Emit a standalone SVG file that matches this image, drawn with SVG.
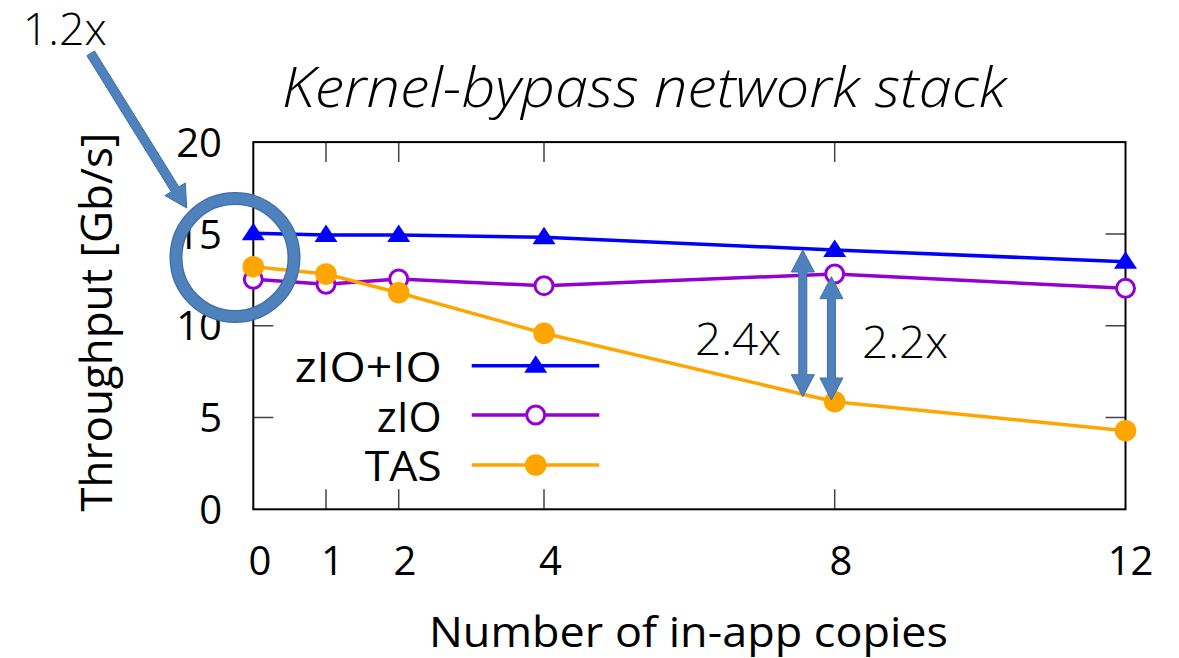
<svg xmlns="http://www.w3.org/2000/svg" width="1179" height="658" viewBox="0 0 1179 658">
  <style>
    text { font-family: "Open Sans", "DejaVu Sans", sans-serif; fill: #000; }
    .tick { stroke: #444; stroke-width: 1.5; fill: none; }
    .frame { stroke: #000; stroke-width: 2; fill: none; }
    .ylab { font-size: 40px; text-anchor: end; }
    .xlab { font-size: 40px; text-anchor: middle; }
    .leg { font-size: 42px; text-anchor: end; }
    .note { font-size: 44px; font-weight: 300; }
    .s-blue { stroke: #0000ff; stroke-width: 3.5; fill: none; stroke-linejoin: round; }
    .s-purple { stroke: #9400d3; stroke-width: 3.5; fill: none; stroke-linejoin: round; }
    .s-orange { stroke: #ffa500; stroke-width: 3.5; fill: none; stroke-linejoin: round; }
    .m-tri { fill: #0000ff; }
    .m-ring { fill: #fff; stroke: #9400d3; stroke-width: 3; }
    .m-dot { fill: #ffa500; }
    .callout { fill: #4f81bd; stroke: #3f6ea5; stroke-width: 1; }
  </style>
  <defs>
    <polygon id="tri" points="0,-10.5 -11.5,7 11.5,7"/>
  </defs>

  <rect width="1179" height="658" fill="#fff"/>

  <!-- title -->
  <text x="282" y="107" font-size="56" font-style="italic" font-weight="300" fill="#262626" textLength="724" lengthAdjust="spacingAndGlyphs">Kernel-bypass network stack</text>

  <!-- axes frame and ticks -->
  <g id="axes">
    <g class="tick">
      <path d="M253.3,417.5h20M253.3,325.7h20M253.3,233.9h20"/>
      <path d="M1125.5,417.5h-20M1125.5,325.7h-20M1125.5,233.9h-20"/>
      <path d="M326,509.3v-20M398.7,509.3v-20M544,509.3v-20M834.7,509.3v-20"/>
      <path d="M326,142.1v20M398.7,142.1v20M544,142.1v20M834.7,142.1v20"/>
    </g>
    <rect class="frame" x="253.3" y="142.1" width="872.2" height="367.2"/>
    <text class="ylab" x="222" y="157">20</text>
    <text class="ylab" x="222" y="248.5">15</text>
    <text class="ylab" x="222" y="340.2">10</text>
    <text class="ylab" x="222" y="432">5</text>
    <text class="ylab" x="222" y="524">0</text>
    <text class="xlab" x="260" y="575">0</text>
    <text class="xlab" x="332.5" y="575">1</text>
    <text class="xlab" x="405" y="575">2</text>
    <text class="xlab" x="550.5" y="575">4</text>
    <text class="xlab" x="841" y="575">8</text>
    <text class="xlab" x="1130.5" y="575">12</text>
    <text x="429" y="647" font-size="42" textLength="519" lengthAdjust="spacingAndGlyphs">Number of in-app copies</text>
    <text transform="translate(111.7,511.7) rotate(-90)" font-size="43" textLength="379" lengthAdjust="spacingAndGlyphs">Throughput [Gb/s]</text>
  </g>

  <!-- data series -->
  <g id="connectors">
    <polyline class="s-blue" points="253.3,233.3 326,235 398.7,235 544,237.3 834.7,250 1125.5,261.7"/>
    <polyline class="s-purple" points="253.3,279.3 326,284.3 398.7,279 544,285.7 834.7,274 1125.5,288.3"/>
    <polyline class="s-orange" points="253.3,266.7 326,274 398.7,292.7 544,333.3 834.7,401.7 1125.5,430.7"/>
  </g>

  <g id="series-zio-io" class="m-tri">
    <use href="#tri" x="253.3" y="233.3"/>
    <use href="#tri" x="326" y="235"/>
    <use href="#tri" x="398.7" y="235"/>
    <use href="#tri" x="544" y="237.3"/>
    <use href="#tri" x="834.7" y="250"/>
    <use href="#tri" x="1125.5" y="261.7"/>
  </g>
  <g id="series-zio" class="m-ring">
    <circle cx="253.3" cy="279.3" r="9"/>
    <circle cx="326" cy="284.3" r="9"/>
    <circle cx="398.7" cy="279" r="9"/>
    <circle cx="544" cy="285.7" r="9"/>
    <circle cx="834.7" cy="274" r="9"/>
    <circle cx="1125.5" cy="288.3" r="9"/>
  </g>
  <g id="series-tas" class="m-dot">
    <circle cx="253.3" cy="266.7" r="10.8"/>
    <circle cx="326" cy="274" r="10.8"/>
    <circle cx="398.7" cy="292.7" r="10.8"/>
    <circle cx="544" cy="333.3" r="10.8"/>
    <circle cx="834.7" cy="401.7" r="10.8"/>
    <circle cx="1125.5" cy="430.7" r="10.8"/>
  </g>

  <!-- key -->
  <g id="legend">
    <text class="leg" x="441.7" y="381.7" textLength="147" lengthAdjust="spacingAndGlyphs">zIO+IO</text>
    <line class="s-blue" x1="471.7" y1="365.7" x2="599.3" y2="365.7"/>
    <use class="m-tri" href="#tri" x="535.7" y="365.7"/>
    <text class="leg" x="441.7" y="431.7" textLength="65" lengthAdjust="spacingAndGlyphs">zIO</text>
    <line class="s-purple" x1="471.7" y1="415" x2="599.3" y2="415"/>
    <circle class="m-ring" cx="535.7" cy="415" r="9"/>
    <text class="leg" x="441.7" y="480.7" textLength="77" lengthAdjust="spacingAndGlyphs">TAS</text>
    <line class="s-orange" x1="471.7" y1="465" x2="599.3" y2="465"/>
    <circle class="m-dot" cx="535.7" cy="465" r="10.8"/>
  </g>

  <!-- speed-up annotations -->
  <g id="gap-arrows">
    <polygon class="callout" points="802.8,250 814.3,272 806.8,272 806.8,374.7 814.3,374.7 802.8,396.7 791.3,374.7 798.8,374.7 798.8,272 791.3,272"/>
    <polygon class="callout" points="831.4,276.7 842.9,298.7 835.4,298.7 835.4,378 842.9,378 831.4,400 819.9,378 827.4,378 827.4,298.7 819.9,298.7"/>
    <text class="note" x="695" y="355" textLength="86" lengthAdjust="spacingAndGlyphs">2.4x</text>
    <text class="note" x="862" y="358.3" textLength="86" lengthAdjust="spacingAndGlyphs">2.2x</text>
  </g>

  <g id="zero-copy-callout">
    <text class="note" x="22.7" y="45" textLength="84" lengthAdjust="spacingAndGlyphs">1.2x</text>
    <polygon class="callout" points="94.5,50.9 178.9,186.9 185.3,183 186.7,208 164.9,195.6 171.3,191.7 86.9,55.7"/>
    <circle cx="235" cy="257.5" r="59" fill="none" stroke="#3f6ea5" stroke-width="13"/>
    <circle cx="235" cy="257.5" r="59" fill="none" stroke="#4f81bd" stroke-width="10.5"/>
  </g>
</svg>
